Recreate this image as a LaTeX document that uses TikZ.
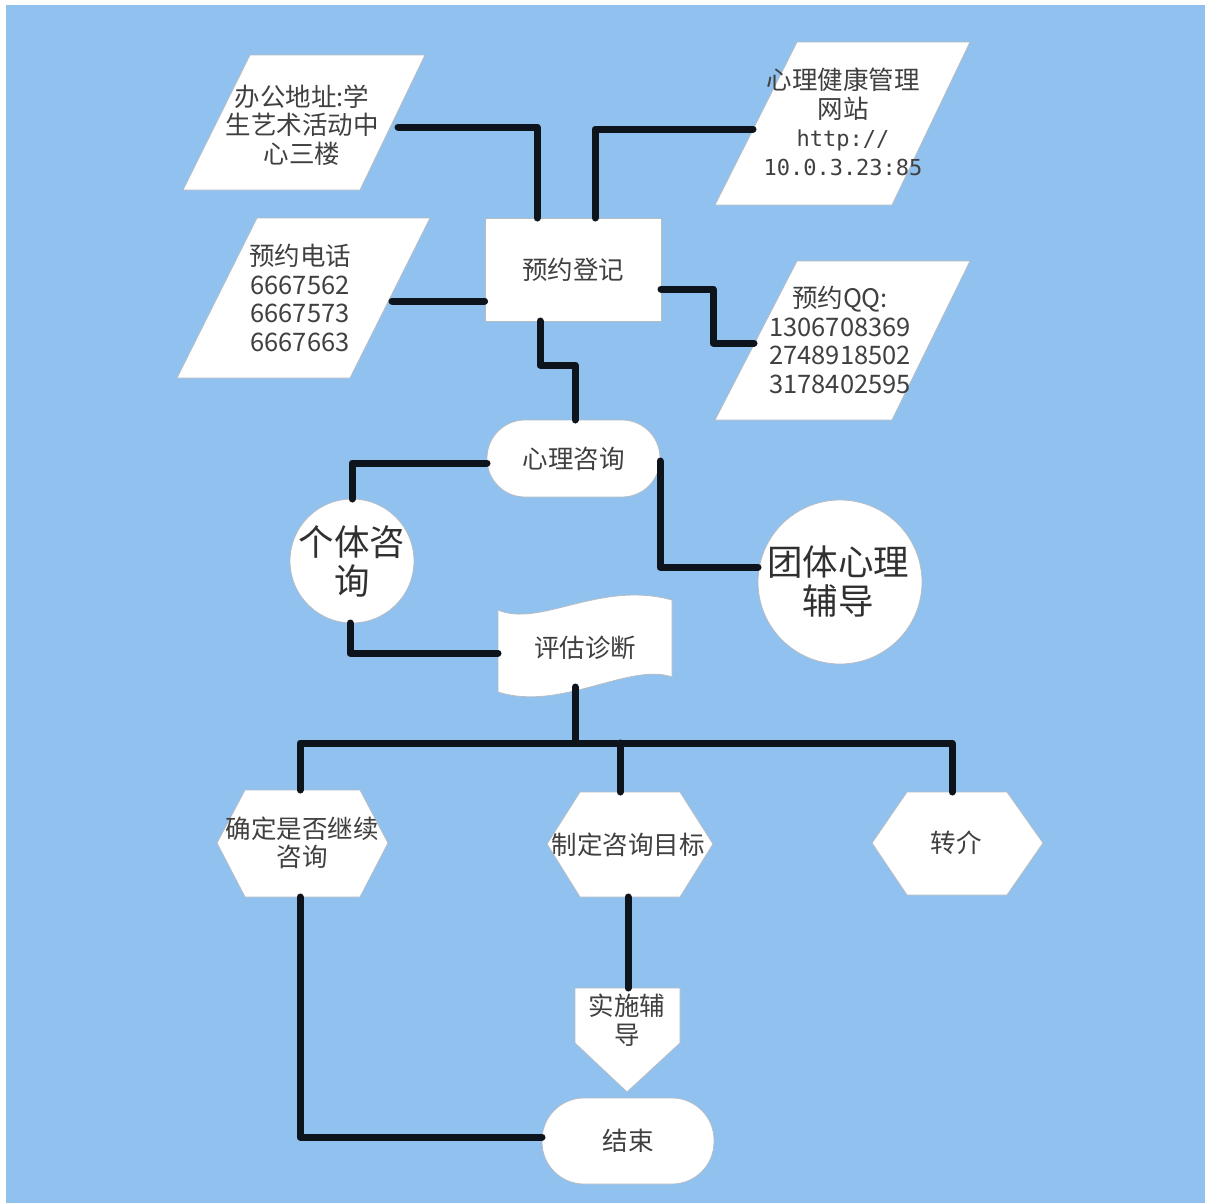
\documentclass[tikz,border=0pt]{standalone}
\usepackage{fontspec}
\setmainfont{Noto Sans CJK SC}
\newfontfamily\urlfont{DejaVu Sans Mono}
\usetikzlibrary{shapes.misc}
\definecolor{bgblue}{HTML}{91C1EE}
\definecolor{txtc}{HTML}{404040}
\definecolor{txtd}{HTML}{303030}
\definecolor{linec}{HTML}{0E141C}
\definecolor{edgec}{HTML}{B4BCC4}
\tikzset{
  shp/.style={fill=white, draw=edgec, line width=0.8pt},
  boxnode/.style={shp, inner sep=0pt},
  txt/.style={text=txtc, align=center, inner sep=0pt, font=\fontsize{25.5}{28.5}\selectfont},
  bigtxt/.style={text=txtd, align=center, inner sep=0pt, font=\fontsize{35.5}{39}\selectfont},
  conn/.style={draw=linec, line width=7pt, line cap=round, line join=round},
}
\begin{document}
\begin{tikzpicture}[x=1pt,y=-1pt]
\useasboundingbox (0,0) rectangle (1205,1203);
\fill[white] (0,0) rectangle (1205,1203);
\fill[bgblue] (6,5) rectangle (1205,1203);

% ---------- parallelograms ----------
\draw[shp] (250,55) -- (425,55) -- (360,190) -- (183,190) -- cycle;
\node[txt] (addr) at (302,125) {办公地址:学\\生艺术活动中\\心三楼};
\coordinate (addrE) at (398,127);

\draw[shp] (257,218) -- (430,218) -- (350,378) -- (177,378) -- cycle;
\node[txt] (phone) at (300,298) {预约电话\\6667562\\6667573\\6667663};
\coordinate (phoneE) at (392,301);

\draw[shp] (797,42) -- (970,42) -- (892,205) -- (715,205) -- cycle;
\node[txt] (web) at (843,122) {心理健康管理\\网站\\{\urlfont\fontsize{22}{28.5}\selectfont http://}\\{\urlfont\fontsize{22}{28.5}\selectfont 10.0.3.23:85}};
\coordinate (webW) at (753,129);

\draw[shp] (797,261) -- (970,261) -- (892,420) -- (715,420) -- cycle;
\node[txt] (qq) at (840,340) {预约QQ:\\1306708369\\2748918502\\3178402595};
\coordinate (qqW) at (754,343);

% ---------- main boxes ----------
\node[boxnode, rectangle, minimum width=176pt, minimum height=103pt] (reg) at (573,269.5) {};
\node[txt] (regt) at (reg.center) {预约登记};

\node[boxnode, rounded corners=38pt, minimum width=173pt, minimum height=77pt] (xlzx) at (573.5,458.5) {};
\node[txt] (xlzxt) at (xlzx.center) {心理咨询};

\node[boxnode, circle, minimum size=124pt] (gt) at (352,561) {};
\node[bigtxt] (gtt) at (gt.center) {个体咨\\询};

\node[boxnode, circle, minimum size=164pt] (tt) at (840,582) {};
\node[bigtxt] (ttt) at (838,581) {团体心理\\辅导};

% wave / tape
\draw[shp] (498,610) .. controls (540,628) and (600,580) .. (672,600) -- (672,677)
  .. controls (630,662) and (560,712) .. (498,692) -- cycle;
\node[txt] (pg) at (585,648) {评估诊断};

% hexagons
\draw[shp] (217,843) -- (245,790) -- (360,790) -- (388,843) -- (360,897) -- (245,897) -- cycle;
\node[txt] (qd) at (302,843) {确定是否继续\\咨询};
\draw[shp] (547,844) -- (580,792) -- (680,792) -- (713,844) -- (680,897) -- (580,897) -- cycle;
\node[txt] (zd) at (628,845) {制定咨询目标};
\draw[shp] (872,843) -- (907,792) -- (1007,792) -- (1043,843) -- (1007,895) -- (907,895) -- cycle;
\node[txt] (zj) at (956,843) {转介};

% pentagon
\draw[shp] (575,988) -- (680,988) -- (680,1043) -- (627,1092) -- (575,1043) -- cycle;
\node[txt] (ss) at (627,1020) {实施辅\\导};

\node[boxnode, rounded corners=42pt, minimum width=172pt, minimum height=86pt] (end) at (628,1141) {};
\node[txt] (endt) at (end.center) {结束};

% ---------- connectors ----------
\draw[conn] (addrE) -- (537,127) -- (537,218);
\draw[conn] (595,218) -- (595,129) -- (webW);
\draw[conn] (phoneE) -- (phoneE -| reg.west);
\draw[conn] (661,289) -- (713,289) -- (713,343) -- (qqW);
\draw[conn] (540,321) -- (540,365) -- (575,365) -- (575,420);
\draw[conn] (487,463) -- (352,463) -- (352,499);
\draw[conn] (660,461) -- (660,567) -- (758,567);
\draw[conn] (350,623) -- (350,653) -- (498,653);
\draw[conn] (575,687) -- (575,743);
\draw[conn] (300,790) -- (300,743) -- (952,743) -- (952,792);
\draw[conn] (620,743) -- (620,792);
\draw[conn] (300,897) -- (300,1137) -- (542,1137);
\draw[conn] (628,897) -- (628,988);
\end{tikzpicture}
\end{document}
